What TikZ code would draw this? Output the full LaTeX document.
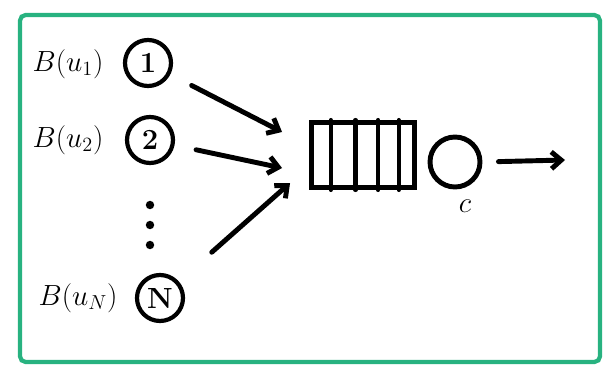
\documentclass[tikz,border=0pt]{standalone}
\usepackage{tikz}
\usetikzlibrary{positioning, calc, arrows.meta}
\definecolor{frameGreen}{RGB}{40,178,128}

\begin{document}
\begin{tikzpicture}[
    >={Straight Barb[length=7pt, width=12pt]},
    line cap=round,
    lbl/.style={font=\huge, inner sep=0pt},
    src/.style={circle, draw=black, line width=3pt, minimum size=1.15cm, font=\huge\bfseries, inner sep=0pt},
    queue/.style={rectangle, draw=black, line width=3.5pt, minimum width=2.575cm, minimum height=1.625cm, inner sep=0pt},
    server/.style={circle, draw=black, line width=3.5pt, minimum size=1.25cm, inner sep=0pt},
    arr/.style={->, line width=3.5pt},
    frame/.style={draw=frameGreen, line width=3pt, rounded corners=4pt}
]
\useasboundingbox (0,0) rectangle (15.175,-9.35);

% enclosing box
\draw[frame] (0.5,-0.375) rectangle (15.0,-9.05);

% sources
\node[lbl] (lbl1) at (1.7,-1.6) {$B(u_1)$};
\node[src] (c1) at (3.7,-1.575) {1};
\node[lbl] (lbl2) at (1.7,-3.5) {$B(u_2)$};
\node[src] (c2) at (3.75,-3.5) {2};
\foreach \y in {-5.125,-5.625,-6.125} {
    \fill (3.75,\y) circle (3pt);
}
\node[lbl] (lblN) at (1.95,-7.45) {$B(u_N)$};
\node[src] (cN) at (4.0,-7.45) {N};

% queue and server
\node[queue] (queue) at (9.075,-3.875) {};
\foreach \f in {0.2,0.43,0.64,0.83} {
    \draw[line width=3pt] ($(queue.north west)!\f!(queue.north east)$)
        -- ($(queue.south west)!\f!(queue.south east)$);
}
\node[server] (srv) at (11.375,-4.05) {};
\node[font=\huge] (cap) at (11.625,-5.15) {$c$};

\coordinate (out) at (14.125,-4.0);

% arrows
\draw[arr, shorten <=0.6cm] (c1) -- ([shift={(-0.675,0.575)}]queue.west);
\draw[arr, shorten <=0.55cm] (c2) -- ([shift={(-0.675,-0.325)}]queue.west);
\draw[arr, shorten <=1.1cm] (cN) -- ([shift={(-0.475,-0.7)}]queue.west);
\draw[arr, shorten <=0.4cm] (srv.east) -- (out);
\end{tikzpicture}
\end{document}
